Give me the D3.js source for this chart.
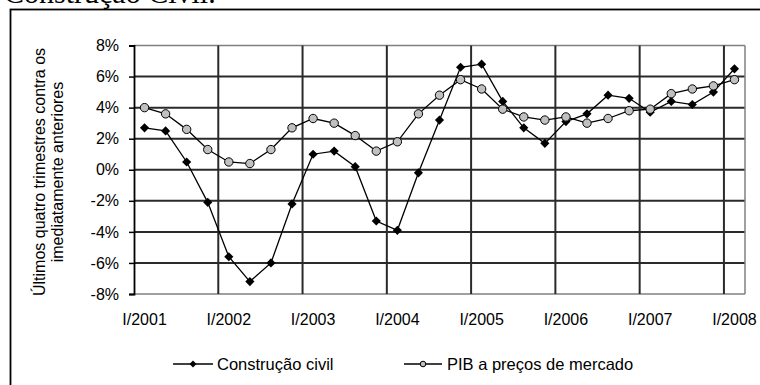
<!DOCTYPE html>
<html>
<head>
<meta charset="utf-8">
<script src="https://cdn.jsdelivr.net/npm/d3@7"></script>
<style>
	body { margin: 0; background: #fff; }
	svg { display: block; }
	text { font-family: "Liberation Sans", Arial, sans-serif; fill: #000; }
</style>
</head>
<body>
<div id="plot"></div>
<script>
var quarters = [
	"I/2001", "II/2001", "III/2001", "IV/2001",
	"I/2002", "II/2002", "III/2002", "IV/2002",
	"I/2003", "II/2003", "III/2003", "IV/2003",
	"I/2004", "II/2004", "III/2004", "IV/2004",
	"I/2005", "II/2005", "III/2005", "IV/2005",
	"I/2006", "II/2006", "III/2006", "IV/2006",
	"I/2007", "II/2007", "III/2007", "IV/2007",
	"I/2008"
];

// variação acumulada em 4 trimestres, %
var construcao = [2.7, 2.5, 0.5, -2.1, -5.6, -7.2, -6.0, -2.2,
	1.0, 1.2, 0.2, -3.3, -3.9, -0.2, 3.2, 6.6,
	6.8, 4.4, 2.7, 1.7, 3.1, 3.6, 4.8, 4.6,
	3.7, 4.4, 4.2, 5.0, 6.5];

var pib = [4.0, 3.6, 2.6, 1.3, 0.5, 0.4, 1.3, 2.7,
	3.3, 3.0, 2.2, 1.2, 1.8, 3.6, 4.8, 5.8,
	5.2, 3.9, 3.4, 3.2, 3.4, 3.0, 3.3, 3.8,
	3.9, 4.9, 5.2, 5.4, 5.8];

var yTicks = [-8, -6, -4, -2, 0, 2, 4, 6, 8];
var yTitle = ["Últimos quatro trimestres contra os", "imediatamente anteriores"];
var legendNames = ["Construção civil", "PIB a preços de mercado"];

var W = 760, H = 385;
var margin = {top: 45.5, right: 15, bottom: 91, left: 134};
var width = W - margin.left - margin.right;
var height = H - margin.top - margin.bottom;

var svg = d3.select("#plot").append("svg")
	.attr("width", W)
	.attr("height", H);

// titulo cortado no topo (como na imagem) e moldura
svg.append("text")
	.attr("x", 4)
	.attr("y", 3)
	.style("font-family", "'Liberation Serif', 'Times New Roman', serif")
	.style("font-size", "30px")
	.text("Construção Civil.");

svg.append("rect")
	.attr("x", 10.5).attr("y", 9.5)
	.attr("width", 780).attr("height", 420)
	.attr("fill", "none")
	.attr("stroke", "#000")
	.attr("stroke-width", 1.8);

var g = svg.append("g")
	.attr("transform", "translate(" + margin.left + "," + margin.top + ")");

var x = d3.scaleBand().domain(quarters).range([0, width]).padding(0);
var y = d3.scaleLinear().domain([-8, 8]).range([height, 0]);
var cx = function(d, i) { return x(quarters[i]) + x.bandwidth() / 2; };

// linhas de grade horizontais
g.append("g")
	.selectAll("line")
	.data(yTicks)
	.enter().append("line")
	.attr("x1", 0).attr("x2", width)
	.attr("y1", function(d) { return y(d); })
	.attr("y2", function(d) { return y(d); })
	.attr("stroke", function(d) { return (d == 8 || d == -8) ? "#808080" : "#2a2a2a"; })
	.attr("stroke-width", function(d) { return (d == 8 || d == -8) ? 1.5 : 2; });

// linhas de grade verticais a cada 4 trimestres
var vIdx = [4, 8, 12, 16, 20, 24, 28];
g.append("g")
	.selectAll("line")
	.data(vIdx)
	.enter().append("line")
	.attr("x1", function(d) { return x(quarters[d]); })
	.attr("x2", function(d) { return x(quarters[d]); })
	.attr("y1", 0).attr("y2", height)
	.attr("stroke", "#2a2a2a")
	.attr("stroke-width", 2);

g.append("line")
	.attr("x1", width).attr("x2", width)
	.attr("y1", 0).attr("y2", height)
	.attr("stroke", "#808080")
	.attr("stroke-width", 1.5);

// eixo Y
var yAxis = g.append("g")
	.call(d3.axisLeft(y).tickValues(yTicks).tickSize(5).tickPadding(10)
		.tickFormat(function(d) { return d + "%"; }));
yAxis.select(".domain").attr("stroke", "#000").attr("stroke-width", 1.8);
yAxis.selectAll(".tick line").attr("stroke", "#000").attr("stroke-width", 1.5);
yAxis.selectAll("text").style("font-size", "16px");

// eixo X
var xAxis = g.append("g")
	.attr("transform", "translate(0," + height + ")")
	.call(d3.axisBottom(x)
		.tickValues(quarters.filter(function(q) { return q.indexOf("I/") == 0; }))
		.tickSize(0).tickPadding(20));
xAxis.select(".domain").remove();
xAxis.selectAll("text").style("font-size", "16px");

// titulo do eixo Y
var yt = svg.append("text")
	.attr("transform", "translate(44.5,172) rotate(-90)")
	.attr("text-anchor", "middle")
	.style("font-size", "16px");
yt.selectAll("tspan")
	.data(yTitle)
	.enter().append("tspan")
	.attr("x", 0)
	.attr("dy", function(d, i) { return i == 0 ? 0 : 18.5; })
	.text(function(d) { return d; });

// series
var line = d3.line()
	.x(cx)
	.y(function(d) { return y(d); });

g.append("path")
	.datum(pib)
	.attr("d", line)
	.attr("fill", "none")
	.attr("stroke", "#000")
	.attr("stroke-width", 1.3);

g.append("path")
	.datum(construcao)
	.attr("d", line)
	.attr("fill", "none")
	.attr("stroke", "#000")
	.attr("stroke-width", 1.3);

var diamond = d3.symbol().type(d3.symbolSquare).size(42);

g.append("g")
	.selectAll("path")
	.data(construcao)
	.enter().append("path")
	.attr("d", diamond)
	.attr("transform", function(d, i) { return "translate(" + cx(d, i) + "," + y(d) + ") rotate(45)"; })
	.attr("fill", "#000");

g.append("g")
	.selectAll("circle")
	.data(pib)
	.enter().append("circle")
	.attr("cx", cx)
	.attr("cy", function(d) { return y(d); })
	.attr("r", 4.2)
	.attr("fill", "#c0c0c0")
	.attr("stroke", "#000")
	.attr("stroke-width", 1);

// legenda
var leg = svg.append("g").attr("transform", "translate(0,364)");

var l1 = leg.append("g").attr("transform", "translate(173,0)");
l1.append("line").attr("x1", 0).attr("x2", 40).attr("stroke", "#000").attr("stroke-width", 1.3);
l1.append("path").attr("d", d3.symbol().type(d3.symbolSquare).size(24))
	.attr("transform", "translate(20,0) rotate(45)").attr("fill", "#000");
l1.append("text").attr("x", 44).attr("dy", "0.35em").style("font-size", "16.5px").text(legendNames[0]);

var l2 = leg.append("g").attr("transform", "translate(404,0)");
l2.append("line").attr("x1", 0).attr("x2", 38).attr("stroke", "#000").attr("stroke-width", 1.3);
l2.append("circle").attr("cx", 19).attr("r", 2.8)
	.attr("fill", "#c0c0c0").attr("stroke", "#000").attr("stroke-width", 1);
l2.append("text").attr("x", 43).attr("dy", "0.35em").style("font-size", "16.5px").text(legendNames[1]);
</script>
</body>
</html>
